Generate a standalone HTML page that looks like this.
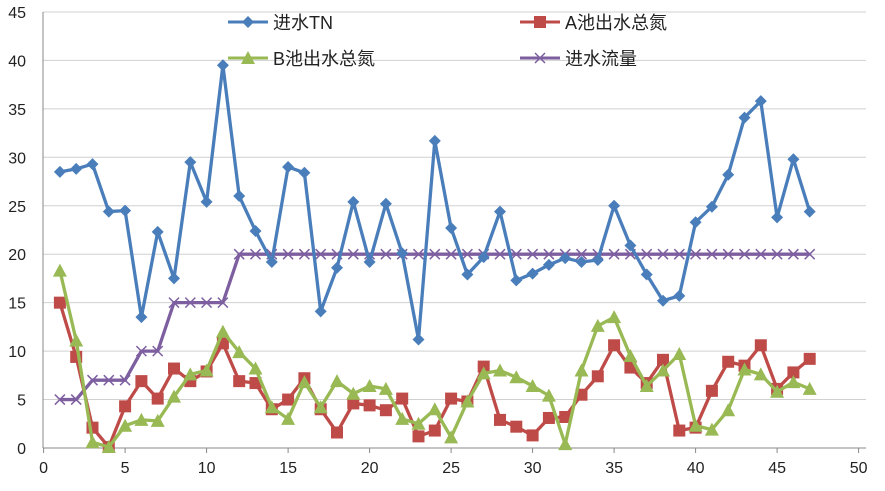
<!DOCTYPE html>
<html><head><meta charset="utf-8"><style>body{margin:0;background:#fff}svg{display:block}</style></head>
<body>
<svg id="c" width="885" height="491" xmlns="http://www.w3.org/2000/svg" font-family="Liberation Sans, Noto Sans CJK SC, sans-serif"></svg>
<script>
const s=document.getElementById('c');let h='';
const X=v=>43.6+v*16.3, Y=v=>448-v*9.69;
for(let v=0;v<=45;v+=5){h+=`<line x1="43" x2="866" y1="${Y(v)}" y2="${Y(v)}" stroke="#d0d0d0" stroke-width="1"/>`;
h+=`<text x="26" y="${Y(v)+6}" font-size="16" text-anchor="end" fill="#222">${v}</text>`;}
h+=`<line x1="43" x2="43" y1="12" y2="448" stroke="#888"/><line x1="43" x2="866" y1="448" y2="448" stroke="#888"/>`;
for(let v=0;v<=50;v+=5){h+=`<line x1="${X(v)}" x2="${X(v)}" y1="448" y2="453" stroke="#888"/><text x="${X(v)}" y="473" font-size="16" text-anchor="middle" fill="#222">${v}</text>`;}
const TN=[28.5,28.8,29.3,24.4,24.5,13.5,22.3,17.5,29.5,25.4,39.5,26,22.4,19.2,29,28.4,14.1,18.6,25.4,19.2,25.2,20.1,11.2,31.7,22.7,17.9,19.7,24.4,17.3,18,18.9,19.6,19.2,19.4,25,20.9,17.9,15.2,15.7,23.3,24.9,28.2,34.1,35.8,23.8,29.8,24.4];
const A=[15,9.4,2.1,0.1,4.3,6.9,5.1,8.2,6.9,7.9,10.8,6.9,6.7,4,5,7.2,4,1.6,4.6,4.4,3.9,5.1,1.2,1.8,5.1,4.8,8.4,2.9,2.2,1.3,3.1,3.2,5.5,7.4,10.6,8.3,6.7,9.1,1.8,2.1,5.9,8.9,8.5,10.6,6.1,7.8,9.2];
const B=[18.3,11.1,0.6,0.1,2.3,2.9,2.8,5.3,7.6,8,12,9.9,8.2,4.2,3,6.8,4.2,6.9,5.6,6.4,6.1,3,2.5,4,1.1,4.8,7.7,8,7.3,6.4,5.4,0.4,8,12.6,13.5,9.5,6.4,8,9.7,2.3,1.9,3.9,8.1,7.6,5.8,6.8,6.1];
const F=[5,5,7,7,7,10,10,15,15,15,15];while(F.length<47)F.push(20);
function mk(t,x,y,c){if(t=='d')return `<polygon points="${x},${y-6} ${x+6},${y} ${x},${y+6} ${x-6},${y}" fill="${c}"/>`;
if(t=='s')return `<rect x="${x-6}" y="${y-6}" width="12" height="12" fill="${c}"/>`;
if(t=='t')return `<polygon points="${x},${y-7} ${x+7},${y+6} ${x-7},${y+6}" fill="${c}"/>`;
return `<path d="M${x-5} ${y-5}L${x+5} ${y+5}M${x+5} ${y-5}L${x-5} ${y+5}" stroke="${c}" stroke-width="1.5"/>`;}
function ser(d,c,t){h+=`<polyline fill="none" stroke="${c}" stroke-width="3.3" stroke-linejoin="round" points="${d.map((v,i)=>X(i+1)+','+Y(v)).join(' ')}"/>`;d.forEach((v,i)=>h+=mk(t,X(i+1),Y(v),c));}
ser(F,'#7d5fa0','x');ser(TN,'#4a7ebb','d');ser(A,'#be4b48','s');ser(B,'#98b954','t');
function leg(x,y,c,t,l){h+=`<line x1="${x-20}" x2="${x+20}" y1="${y}" y2="${y}" stroke="${c}" stroke-width="3"/>`+mk(t,x,y,c)+`<text x="${x+25}" y="${y+7}" font-size="18" fill="#222">${l}</text>`;}
leg(248,22,'#4a7ebb','d','进水TN');leg(540,22,'#be4b48','s','A池出水总氮');leg(248,58,'#98b954','t','B池出水总氮');leg(540,58,'#7d5fa0','x','进水流量');
s.innerHTML=h;
</script>
</body></html>
